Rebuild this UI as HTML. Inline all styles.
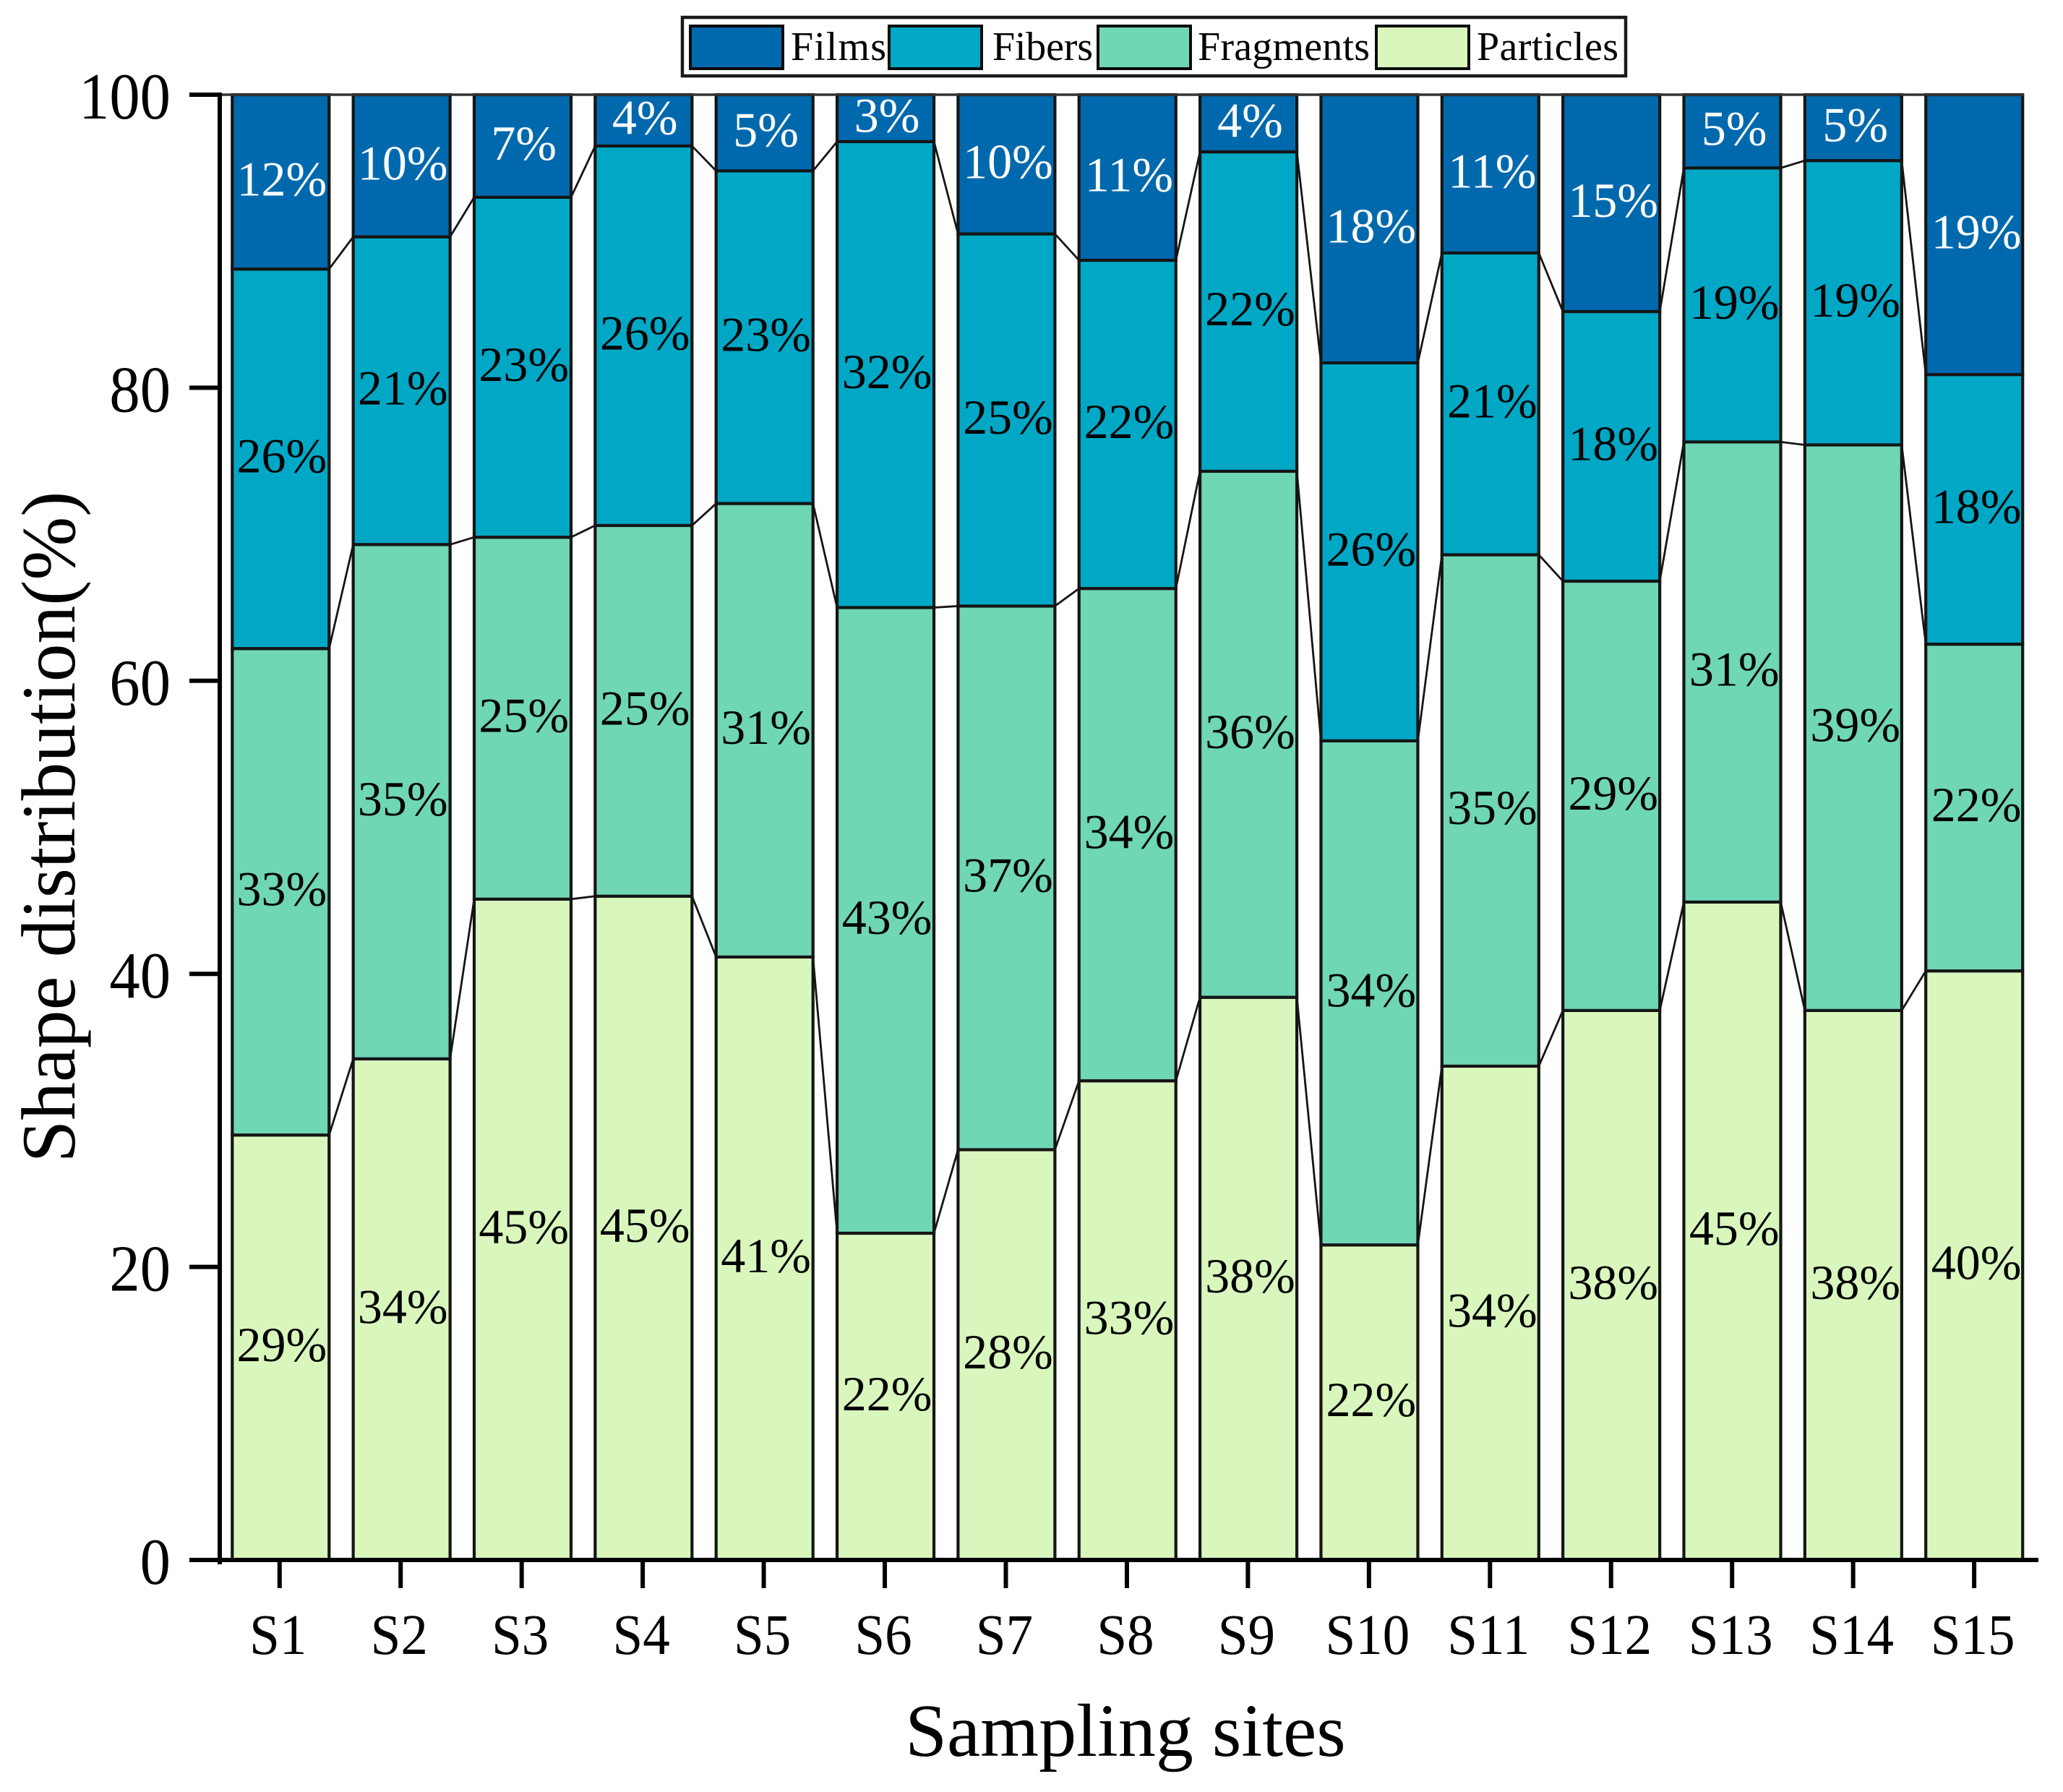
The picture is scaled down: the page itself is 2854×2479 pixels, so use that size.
<!DOCTYPE html>
<html lang="en">
<head>
<meta charset="utf-8">
<title>Shape distribution by sampling site</title>
<style>
html,body{margin:0;padding:0;background:#fff;}
svg{display:block;}
text{font-family:"Liberation Serif",serif;fill:#000;}
</style>
</head>
<body>
<svg id="chart" xmlns="http://www.w3.org/2000/svg" width="2854" height="2479" viewBox="0 0 2854 2479">
  <rect x="0" y="0" width="2854" height="2479" fill="#ffffff"/>
  <g id="plot"></g>
  <g id="axes"></g>
  <text transform="translate(103,1144) rotate(-90)" font-size="105.5" text-anchor="middle">Shape distribution(%)</text>
  <text x="1557" y="2429" font-size="104" text-anchor="middle">Sampling sites</text>
  <g>
    <rect x="944" y="24" width="1305" height="81" fill="#ffffff" stroke="#1a1a1a" stroke-width="4.5"/>
    <g>
      <rect x="955" y="36" width="128" height="59" fill="#0069ae" stroke="#0a0a0a" stroke-width="4"/>
      <text x="1094" y="83" font-size="56" textLength="132" lengthAdjust="spacing">Films</text>
    </g>
    <g>
      <rect x="1230" y="36" width="128" height="59" fill="#00a8c6" stroke="#0a0a0a" stroke-width="4"/>
      <text x="1373" y="83" font-size="56" textLength="139" lengthAdjust="spacing">Fibers</text>
    </g>
    <g>
      <rect x="1519" y="36" width="128" height="59" fill="#6fd6b6" stroke="#0a0a0a" stroke-width="4"/>
      <text x="1657" y="83" font-size="56" textLength="238" lengthAdjust="spacing">Fragments</text>
    </g>
    <g>
      <rect x="1904" y="36" width="128" height="59" fill="#d9f7bd" stroke="#0a0a0a" stroke-width="4"/>
      <text x="2043" y="83" font-size="56" textLength="196" lengthAdjust="spacing">Particles</text>
    </g>
  </g>
</svg>
<script>
const categories = ['S1','S2','S3','S4','S5','S6','S7','S8','S9','S10','S11','S12','S13','S14','S15'];
const particles = [29.0,34.2,45.1,45.3,41.15,22.3,28.0,32.7,38.4,21.5,33.7,37.5,44.9,37.5,40.2];
const fragments = [33.2,35.1,24.7,25.3,30.95,42.7,37.1,33.6,35.9,34.4,34.9,29.3,31.4,38.6,22.3];
const fibers = [25.9,21.0,23.2,25.9,22.7,31.8,25.4,22.4,21.8,25.8,20.6,18.4,18.7,19.4,18.4];
const films = [11.9,9.7,7.0,3.5,5.2,3.2,9.5,11.3,3.9,18.3,10.8,14.8,5.0,4.5,19.1];
const yTicks = [0,20,40,60,80,100];

const NS = 'http://www.w3.org/2000/svg';
const plot = document.getElementById('plot');
const axes = document.getElementById('axes');
const BAR_W = 134;

function xCenter(i){ return 386.8 + i * 167.45; }
function xBar(i){ return 388.3 + i * 167.35; }
function yPos(v){ return 2158 - v * 20.27; }
function make(tag, parent){
  const el = document.createElementNS(NS, tag);
  parent.appendChild(el);
  return el;
}

const seriesList = [
  {key:'particles', values:particles, color:'#d9f7bd', text:'#000000'},
  {key:'fragments', values:fragments, color:'#6fd6b6', text:'#000000'},
  {key:'fibers', values:fibers, color:'#00a8c6', text:'#000000'},
  {key:'films', values:films, color:'#0069ae', text:'#ffffff'}
];

const base = categories.map(function(){ return 0; });
const labelQueue = [];
seriesList.forEach(function(s){
  const tops = [];
  s.values.forEach(function(v, i){
    const y0 = yPos(base[i]);
    const y1 = yPos(base[i] + v);
    const bar = make('rect', plot);
    
    
    bar.setAttribute('x', xBar(i) - BAR_W / 2);
    bar.setAttribute('y', y1);
    bar.setAttribute('width', BAR_W);
    bar.setAttribute('height', y0 - y1);
    bar.setAttribute('fill', s.color);
    bar.setAttribute('stroke', '#151515');
    bar.setAttribute('stroke-width', '4.2');
    labelQueue.push({key:s.key, i:i, v:v, y:(y0 + y1) / 2, color:s.text});
    base[i] += v;
    tops.push(yPos(base[i]));
  });
  if (s.key !== 'films') {
    for (let i = 0; i < tops.length - 1; i++) {
      const link = make('line', plot);
      
      
      link.setAttribute('x1', xBar(i) + BAR_W / 2);
      link.setAttribute('y1', tops[i]);
      link.setAttribute('x2', xBar(i + 1) - BAR_W / 2);
      link.setAttribute('y2', tops[i + 1]);
      link.setAttribute('stroke', '#151515');
      link.setAttribute('stroke-width', '2.8');
    }
  }
});

labelQueue.forEach(function(l){
  const t = make('text', plot);
  
  
  t.setAttribute('x', xCenter(l.i) + 3);
  t.setAttribute('y', l.y + 19);
  t.setAttribute('font-size', '68');
  t.setAttribute('text-anchor', 'middle');
  t.setAttribute('style', 'fill:' + l.color);
  t.textContent = Math.round(l.v) + '%';
});

const topLine = make('line', axes);


topLine.setAttribute('x1', '302');
topLine.setAttribute('y1', yPos(100));
topLine.setAttribute('x2', xBar(14) + BAR_W / 2 + 2);
topLine.setAttribute('y2', yPos(100));
topLine.setAttribute('stroke', '#333');
topLine.setAttribute('stroke-width', '3.5');

const yAxis = make('line', axes);


yAxis.setAttribute('x1', '304');
yAxis.setAttribute('y1', yPos(100) - 3);
yAxis.setAttribute('x2', '304');
yAxis.setAttribute('y2', '2164');
yAxis.setAttribute('stroke', '#000');
yAxis.setAttribute('stroke-width', '6');

const xAxis = make('line', axes);


xAxis.setAttribute('x1', '262');
xAxis.setAttribute('y1', yPos(0));
xAxis.setAttribute('x2', '2820');
xAxis.setAttribute('y2', yPos(0));
xAxis.setAttribute('stroke', '#000');
xAxis.setAttribute('stroke-width', '6');

yTicks.forEach(function(v){
  const tick = make('line', axes);
  
  
  tick.setAttribute('x1', '262');
  tick.setAttribute('y1', yPos(v));
  tick.setAttribute('x2', '304');
  tick.setAttribute('y2', yPos(v));
  tick.setAttribute('stroke', '#000');
  tick.setAttribute('stroke-width', '6');
  const lab = make('text', axes);
  
  
  lab.setAttribute('transform', 'translate(236,' + (yPos(v) + 33) + ') scale(0.93,1)');
  lab.setAttribute('font-size', '91');
  lab.setAttribute('text-anchor', 'end');
  lab.textContent = v;
});

categories.forEach(function(c, i){
  const tick = make('line', axes);
  
  
  tick.setAttribute('x1', xCenter(i));
  tick.setAttribute('y1', yPos(0));
  tick.setAttribute('x2', xCenter(i));
  tick.setAttribute('y2', '2197');
  tick.setAttribute('stroke', '#000');
  tick.setAttribute('stroke-width', '6');
  const lab = make('text', axes);
  
  
  lab.setAttribute('transform', 'translate(' + (xCenter(i) - 2) + ',2288) scale(0.95,1)');
  lab.setAttribute('font-size', '79');
  lab.setAttribute('text-anchor', 'middle');
  lab.textContent = c;
});
</script>
</body>
</html>
